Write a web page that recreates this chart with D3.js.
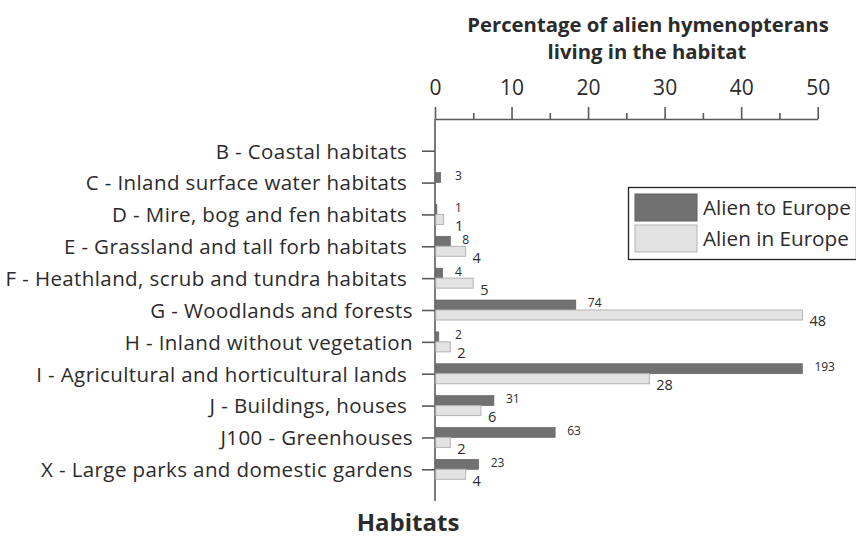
<!DOCTYPE html>
<html>
<head>
<meta charset="utf-8">
<script src="https://cdn.jsdelivr.net/npm/d3@7"></script>
<style>
  html, body { margin: 0; padding: 0; background: #fff; }
  svg text { font-family: "Open Sans", Lato, sans-serif; fill: #2b2b2b; }
</style>
</head>
<body>
<div id="chart"></div>
<script>
// habitat categories (trailing nbsp kept where the source label had a space before the tick)
const categories = [
  "B - Coastal habitats\u00a0",
  "C - Inland surface water habitats\u00a0",
  "D - Mire, bog and fen habitats\u00a0",
  "E - Grassland and tall forb habitats\u00a0",
  "F - Heathland, scrub and tundra habitats\u00a0",
  "G - Woodlands and forests",
  "H - Inland without vegetation",
  "I - Agricultural and horticultural lands\u00a0",
  "J - Buildings, houses\u00a0",
  "J100 - Greenhouses",
  "X - Large parks and domestic gardens"
];

// Alien to Europe: bar length (%) and the count printed next to it
const alienToPct = [0, 0.75, 0.25, 2.0, 1.0, 18.4, 0.5, 48.0, 7.7, 15.7, 5.7];
const alienToLabels = ["", "3", "1", "8", "4", "74", "2", "193", "31", "63", "23"];

// Alien in Europe: bar length (%) and printed value
const alienInPct = [0, 0, 1.1, 4, 5, 48, 2, 28, 6, 2, 4];
const alienInLabels = ["", "", "1", "4", "5", "48", "2", "28", "6", "2", "4"];

const majorTicks = [0, 10, 20, 30, 40, 50];
const minorTicks = [5, 15, 25, 35, 45];

const seriesNames = ["Alien to Europe", "Alien in Europe"];

const WIDTH = 856;
const HEIGHT = 538;
const DARK = "#717171";
const DARK_STROKE = "#5e5e5e";
const LIGHT = "#e3e3e3";
const LIGHT_STROKE = "#b3b3b3";
const AXIS = "#5a5a5a";
const BAR_H = 10;

const svg = d3.select("#chart")
  .append("svg")
  .attr("width", WIDTH)
  .attr("height", HEIGHT);

const x = d3.scaleLinear().domain([0, 50]).range([435, 817.7]);
const y = d3.scalePoint().domain(categories).range([150.7, 469.3]);

// --------------- title ---------------
const title = svg.append("text")
  .attr("text-anchor", "middle")
  .attr("font-weight", "bold")
  .attr("font-size", 20.3);
title.append("tspan").attr("x", 648).attr("y", 32).text("Percentage of alien hymenopterans");
title.append("tspan").attr("x", 647).attr("y", 59).text("living in the habitat");

// --------------- top axis ---------------
const axisTop = svg.append("g")
  .attr("transform", "translate(0,119)")
  .call(d3.axisTop(x).tickValues(majorTicks).tickSize(12).tickSizeOuter(0).tickPadding(12));
axisTop.selectAll("text").attr("font-size", 21).attr("fill", "#2b2b2b");

const minor = svg.append("g")
  .attr("transform", "translate(0,119)")
  .call(d3.axisTop(x).tickValues(minorTicks).tickSize(6).tickFormat(""));
minor.select(".domain").remove();

svg.selectAll(".tick line, .domain")
  .attr("stroke", AXIS)
  .attr("stroke-width", 1.6);

// --------------- left axis ---------------
const axisLeft = svg.append("g")
  .attr("transform", `translate(${x(0)},0)`)
  .call(d3.axisLeft(y).tickSize(13).tickPadding(9));
axisLeft.select(".domain").remove();
axisLeft.selectAll(".tick line").attr("stroke", AXIS).attr("stroke-width", 1.6);
axisLeft.selectAll("text")
  .attr("font-size", 20.5)
  .attr("letter-spacing", 0.4)
  .attr("dy", "0.36em")
  .attr("fill", "#2b2b2b")
  .style("white-space", "pre");

svg.append("line")
  .attr("x1", x(0)).attr("x2", x(0))
  .attr("y1", 119).attr("y2", 501)
  .attr("stroke", AXIS)
  .attr("stroke-width", 1.6);

// --------------- bars ---------------
const rows = categories.map((c, i) => ({
  cat: c,
  to: alienToPct[i], toLabel: alienToLabels[i],
  inn: alienInPct[i], inLabel: alienInLabels[i]
}));

const bars = svg.append("g");

bars.selectAll("rect.to")
  .data(rows.filter(d => d.toLabel !== ""))
  .enter()
  .append("rect")
  .attr("class", "to")
  .attr("x", x(0) + 0.8)
  .attr("y", d => y(d.cat) - BAR_H)
  .attr("width", d => Math.max(x(d.to) - x(0) - 0.8, 1))
  .attr("height", BAR_H)
  .attr("fill", DARK)
  .attr("stroke", DARK_STROKE)
  .attr("stroke-width", 0.6);

bars.selectAll("rect.in")
  .data(rows.filter(d => d.inLabel !== ""))
  .enter()
  .append("rect")
  .attr("class", "in")
  .attr("x", x(0) + 0.8)
  .attr("y", d => y(d.cat))
  .attr("width", d => x(d.inn) - x(0) - 0.8)
  .attr("height", BAR_H)
  .attr("fill", LIGHT)
  .attr("stroke", LIGHT_STROKE)
  .attr("stroke-width", 1);

// value labels
bars.selectAll("text.to")
  .data(rows.filter(d => d.toLabel !== ""))
  .enter()
  .append("text")
  .attr("class", "to")
  .attr("x", d => Math.max(x(d.to) + 12, x(0) + 20))
  .attr("y", d => y(d.cat) - BAR_H / 2)
  .attr("dy", "0.2em")
  .attr("font-size", 12)
  .attr("fill", "#3a3a3a")
  .text(d => d.toLabel);

bars.selectAll("text.in")
  .data(rows.filter(d => d.inLabel !== ""))
  .enter()
  .append("text")
  .attr("class", "in")
  .attr("x", d => Math.max(x(d.inn) + 7, x(0) + 20))
  .attr("y", d => y(d.cat) + BAR_H)
  .attr("dy", "0.44em")
  .attr("font-size", 14.5)
  .text(d => d.inLabel);

// --------------- legend ---------------
const legend = svg.append("g");
legend.append("rect")
  .attr("x", 628.5).attr("y", 187.5)
  .attr("width", 228).attr("height", 72)
  .attr("fill", "#fff")
  .attr("stroke", "#222")
  .attr("stroke-width", 1.3);

const legendItems = legend.selectAll("g.item")
  .data(seriesNames)
  .enter()
  .append("g")
  .attr("transform", (d, i) => `translate(635,${194 + i * 31})`);

legendItems.append("rect")
  .attr("width", 62)
  .attr("height", 27)
  .attr("fill", (d, i) => i === 0 ? DARK : LIGHT)
  .attr("stroke", (d, i) => i === 0 ? DARK_STROKE : LIGHT_STROKE)
  .attr("stroke-width", 1);

legendItems.append("text")
  .attr("x", 68)
  .attr("y", 21)
  .attr("font-size", 20.7)
  .text(d => d);

// --------------- bottom axis title ---------------
svg.append("text")
  .attr("x", 408)
  .attr("y", 531)
  .attr("text-anchor", "middle")
  .attr("font-weight", "bold")
  .attr("font-size", 24)
  .text("Habitats");
</script>
</body>
</html>
